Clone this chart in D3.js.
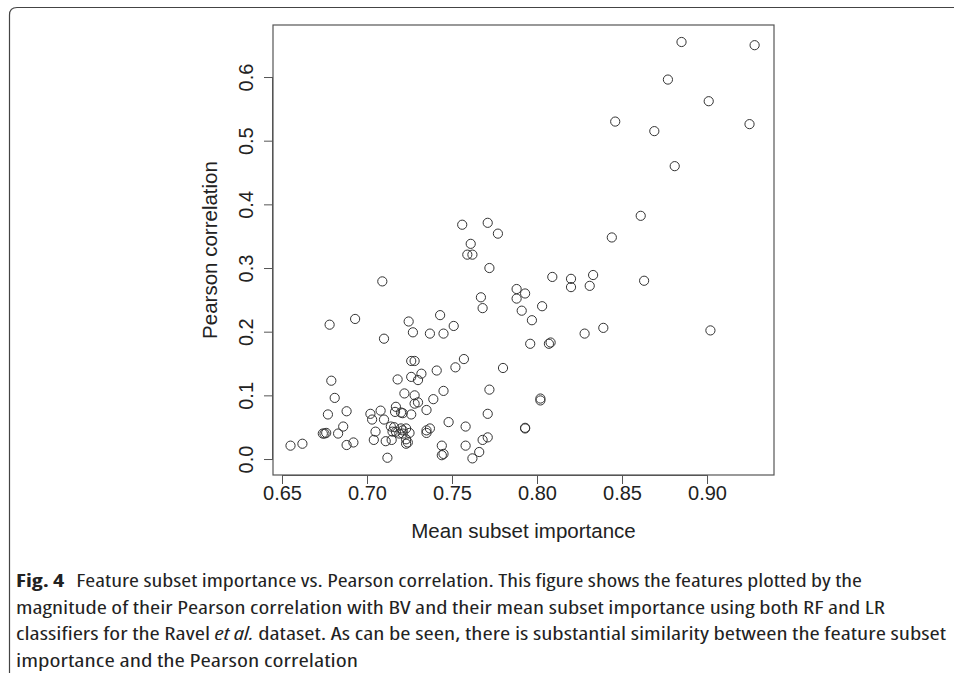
<!DOCTYPE html>
<html>
<head>
<meta charset="utf-8">
<script src="https://cdn.jsdelivr.net/npm/d3@7"></script>
<style>
  body { margin: 0; background: #fff; }
  #graf { width: 954px; height: 673px; }
</style>
</head>
<body>
<div id="graf"></div>
<script>
// Datos: importancia media del subconjunto (x) y correlacion de Pearson (y)
const importancia = [
  0.885, 0.928, 0.877, 0.901, 0.846, 0.869, 0.925, 0.881, 0.861, 0.844,
  0.863, 0.839, 0.902, 0.756, 0.771, 0.777, 0.761, 0.759, 0.762, 0.772,
  0.809, 0.820, 0.820, 0.833, 0.831, 0.788, 0.793, 0.788, 0.767, 0.768,
  0.791, 0.803, 0.797, 0.828, 0.796, 0.807, 0.808, 0.743, 0.745, 0.751,
  0.757, 0.752, 0.741, 0.780, 0.745, 0.772, 0.802, 0.802, 0.771, 0.748,
  0.758, 0.793, 0.793, 0.744, 0.744, 0.745, 0.758, 0.768, 0.771, 0.766,
  0.762, 0.709, 0.678, 0.693, 0.7245, 0.727, 0.737, 0.710, 0.726, 0.728,
  0.732, 0.726, 0.730, 0.718, 0.679, 0.681, 0.722, 0.728, 0.728, 0.730,
  0.739, 0.735, 0.717, 0.7165, 0.720, 0.721, 0.726, 0.708, 0.702, 0.703,
  0.710, 0.688, 0.677, 0.686, 0.674, 0.675, 0.676, 0.683, 0.705, 0.704,
  0.688, 0.692, 0.655, 0.662, 0.711, 0.712, 0.7145, 0.714, 0.716, 0.715,
  0.717, 0.720, 0.721, 0.719, 0.721, 0.723, 0.725, 0.723, 0.724, 0.723,
  0.735, 0.737, 0.735
];
const pearson = [
  0.655, 0.650, 0.596, 0.562, 0.530, 0.515, 0.526, 0.460, 0.382, 0.348,
  0.280, 0.206, 0.202, 0.368, 0.371, 0.354, 0.338, 0.321, 0.321, 0.300,
  0.286, 0.283, 0.270, 0.289, 0.272, 0.267, 0.260, 0.252, 0.254, 0.237,
  0.233, 0.240, 0.218, 0.197, 0.181, 0.181, 0.183, 0.226, 0.197, 0.209,
  0.157, 0.144, 0.139, 0.143, 0.107, 0.109, 0.095, 0.092, 0.071, 0.058,
  0.051, 0.049, 0.048, 0.021, 0.006, 0.008, 0.021, 0.030, 0.034, 0.011,
  0.001, 0.279, 0.211, 0.220, 0.216, 0.199, 0.197, 0.189, 0.154, 0.154,
  0.134, 0.129, 0.124, 0.125, 0.123, 0.096, 0.103, 0.100, 0.087, 0.089,
  0.094, 0.077, 0.082, 0.074, 0.073, 0.072, 0.070, 0.076, 0.071, 0.062,
  0.062, 0.075, 0.070, 0.051, 0.040, 0.040, 0.041, 0.040, 0.043, 0.030,
  0.022, 0.026, 0.021, 0.024, 0.028, 0.002, 0.030, 0.051, 0.050, 0.043,
  0.043, 0.048, 0.045, 0.040, 0.040, 0.048, 0.041, 0.031, 0.026, 0.024,
  0.045, 0.048, 0.041
];
const ticksX = [0.65, 0.70, 0.75, 0.80, 0.85, 0.90];
const ticksY = [0.0, 0.1, 0.2, 0.3, 0.4, 0.5, 0.6];

const tituloX = "Mean subset importance";
const tituloY = "Pearson correlation";

// Pie de figura (texto en lineas, como en la revista)
const pie = [
  [{ t: "Fig. 4", b: true }, { t: "\u2002Feature subset importance vs. Pearson correlation. This figure shows the features plotted by the" }],
  [{ t: "magnitude of their Pearson correlation with BV and their mean subset importance using both RF and LR" }],
  [{ t: "classifiers for the Ravel " }, { t: "et al.", i: true }, { t: " dataset. As can be seen, there is substantial similarity between the feature subset" }],
  [{ t: "importance and the Pearson correlation" }]
];
const pieAncho = [846, 869, 930, 342];

const puntos = importancia.map((d, i) => ({ x: d, y: pearson[i] }));

// Dimensiones
const anchoTotal = 954;
const altoTotal = 673;
const caja = { left: 273, right: 774, top: 25, bottom: 475 };

const svg = d3
  .select("#graf")
  .append("svg")
  .attr("width", anchoTotal)
  .attr("height", altoTotal);

// Marco redondeado de la figura (solo arriba e izquierda)
svg
  .append("path")
  .attr("d", "M9.5,673 V15 Q9.5,7.5 17,7.5 H954")
  .attr("fill", "none")
  .attr("stroke", "#444")
  .attr("stroke-width", 1.2);

// Escalas (rango extendido al estilo R)
const x = d3.scaleLinear().domain([0.6447, 0.9394]).range([caja.left, caja.right]);
const y = d3.scaleLinear().domain([-0.0251, 0.6817]).range([caja.bottom, caja.top]);

const fuente = "'Liberation Sans', Arial, Helvetica, sans-serif";

// Ejes
const ejeX = svg
  .append("g")
  .attr("transform", `translate(0, ${caja.bottom})`)
  .call(d3.axisBottom(x).tickValues(ticksX).tickFormat(d3.format(".2f")).tickSize(9).tickSizeOuter(0));
ejeX.select(".domain").attr("d", `M${x(ticksX[0])},0.5H${x(ticksX[ticksX.length - 1])}`);
ejeX.selectAll("text").attr("y", 25).attr("dy", 0).style("font-size", "20px");

const ejeY = svg
  .append("g")
  .attr("transform", `translate(${caja.left}, 0)`)
  .call(d3.axisLeft(y).tickValues(ticksY).tickFormat(d3.format(".1f")).tickSize(9).tickSizeOuter(0));
ejeY.select(".domain").attr("d", `M-0.5,${y(ticksY[0])}V${y(ticksY[ticksY.length - 1])}`);
ejeY
  .selectAll("text")
  .attr("x", null)
  .attr("dy", null)
  .attr("text-anchor", "middle")
  .attr("transform", "translate(-20, 0) rotate(-90)")
  .style("font-size", "20px");

[ejeX, ejeY].forEach((e) => {
  e.attr("font-family", fuente);
  e.selectAll("line, .domain").attr("stroke", "#555");
  e.selectAll("text").attr("fill", "#222");
});

// Caja del grafico
svg
  .append("rect")
  .attr("x", caja.left)
  .attr("y", caja.top)
  .attr("width", caja.right - caja.left)
  .attr("height", caja.bottom - caja.top)
  .attr("fill", "none")
  .attr("stroke", "#555")
  .attr("stroke-width", 1.2);

// Puntos
svg
  .append("g")
  .selectAll("circle")
  .data(puntos)
  .join("circle")
  .attr("cx", (d) => x(d.x))
  .attr("cy", (d) => y(d.y))
  .attr("r", 4.6)
  .attr("fill", "none")
  .attr("stroke", "#333")
  .attr("stroke-width", 1);

// Titulos de los ejes
svg
  .append("text")
  .attr("x", (caja.left + caja.right) / 2)
  .attr("y", 538)
  .attr("text-anchor", "middle")
  .style("font-family", fuente)
  .style("font-size", "20.5px")
  .style("fill", "#222")
  .text(tituloX);

svg
  .append("text")
  .attr("transform", `translate(217, ${(caja.top + caja.bottom) / 2}) rotate(-90)`)
  .attr("text-anchor", "middle")
  .style("font-family", fuente)
  .style("font-size", "20.5px")
  .style("fill", "#222")
  .text(tituloY);

// Pie de figura
const lineas = svg
  .append("g")
  .selectAll("text")
  .data(pie)
  .join("text")
  .attr("x", 16)
  .attr("y", (d, i) => 587 + i * 26.5)
  .attr("textLength", (d, i) => pieAncho[i])
  .attr("lengthAdjust", "spacingAndGlyphs")
  .style("font-family", "'Open Sans', 'Noto Sans', sans-serif")
  .style("font-stretch", "75%")
  .style("font-size", "18px")
  .style("fill", "#222");

lineas
  .selectAll("tspan")
  .data((d) => d)
  .join("tspan")
  .style("font-weight", (d) => (d.b ? "bold" : "normal"))
  .style("font-style", (d) => (d.i ? "italic" : "normal"))
  .text((d) => d.t);
</script>
</body>
</html>
